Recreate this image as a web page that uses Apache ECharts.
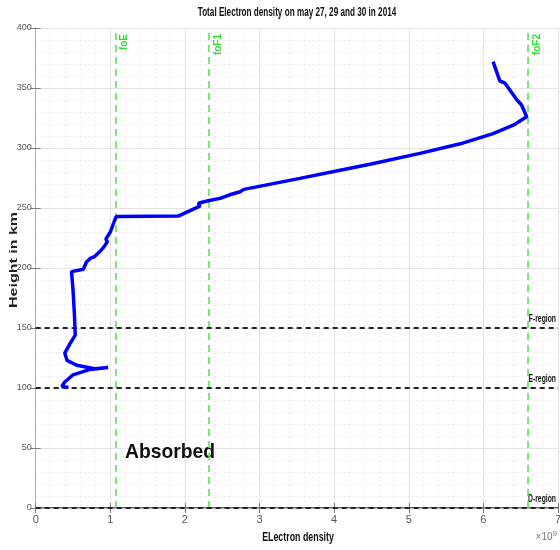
<!DOCTYPE html>
<html>
<head>
<meta charset="utf-8">
<script src="https://cdn.jsdelivr.net/npm/echarts@6/dist/echarts.min.js"></script>
<style>
  html, body { margin: 0; padding: 0; background: #ffffff; }
  #chart { width: 560px; height: 550px; }
</style>
</head>
<body>
<div id="chart"></div>
<script>
// Electron density profile (units of 1e9) against height in km
const density = [0.44, 0.35, 0.39, 0.50, 0.73, 0.97, 0.79, 0.55, 0.42, 0.39, 0.46, 0.53, 0.52, 0.50, 0.48,
  0.50, 0.64, 0.68, 0.73, 0.79, 0.88, 0.93, 0.96, 0.94, 1.00, 1.06, 1.08, 1.91, 2.20, 2.18, 2.31, 2.47,
  2.60, 2.74, 2.79, 3.32, 3.54, 4.08, 4.48, 5.15, 5.69, 6.13, 6.40, 6.58, 6.51, 6.45, 6.29, 6.22, 6.13];
const height = [100.5, 101.5, 105, 111, 115.5, 117, 116, 119, 123, 129, 137, 144, 160, 182, 197,
  198.5, 199, 205, 208, 209.5, 215, 219, 222, 224, 230, 240, 243, 243.3, 251.5, 254, 256, 258,
  261, 263.5, 265.5, 272, 274.7, 281.5, 286.5, 295.5, 303.5, 312, 319, 326, 336, 340, 354, 356, 372];

// Critical frequency markers (density position) and ionospheric region boundaries
const freqNames = ['foE', 'foF1', 'foF2'];
const freqDensity = [1.07, 2.32, 6.6];
const regionNames = ['D-region', 'E-region', 'F-region'];
const regionHeights = [0, 100, 150];

// Axis ranges
const xMin = 0, xMax = 7, xStep = 1;
const yMin = 0, yMax = 400, yStep = 50;

const FONT = '"Liberation Sans", Arial, sans-serif';
const chart = echarts.init(document.getElementById('chart'), null, { renderer: 'canvas' });

const frameAxis = {
  axisLine: { show: true, lineStyle: { color: '#b0b0b0', width: 1 } },
  axisTick: { show: true, inside: true, length: 5, lineStyle: { color: '#7a7a7a' } },
  axisLabel: { show: false },
  splitLine: { show: false }
};

// condensed bold text helper for graphic labels
function squeezed(x, y, text, size, opts) {
  return Object.assign({
    type: 'text', x: x, y: y, scaleX: 0.68,
    style: {
      text: text, fontFamily: FONT, fontSize: size, fontWeight: 'bold', fill: '#111',
      align: 'center', verticalAlign: 'middle'
    }
  }, opts || {});
}

chart.setOption({
  animation: false,
  backgroundColor: '#ffffff',
  grid: { left: 35.7, right: 2, top: 28, bottom: 42, containLabel: false, outerBoundsMode: 'none' },
  xAxis: [{
    type: 'value', min: xMin, max: xMax, interval: xStep,
    axisLine: { show: true, lineStyle: { color: '#3a3a3a', width: 1.5 } },
    axisTick: { show: true, inside: true, length: 5, lineStyle: { color: '#7a7a7a' } },
    axisLabel: { fontFamily: FONT, fontSize: 11, color: '#555', margin: 6 },
    splitLine: { show: true, lineStyle: { color: '#e3e3e3', width: 1 } },
    minorTick: { show: false, splitNumber: 5 },
    minorSplitLine: { show: true, lineStyle: { color: '#efefef', width: 1, type: [2, 2] } }
  }, Object.assign({ type: 'value', position: 'top', min: xMin, max: xMax, interval: xStep }, frameAxis)],
  yAxis: [{
    type: 'value', min: yMin, max: yMax, interval: yStep,
    axisLine: { show: true, lineStyle: { color: '#b0b0b0', width: 1 } },
    axisTick: { show: true, inside: true, length: 5, lineStyle: { color: '#7a7a7a' } },
    axisLabel: { fontFamily: FONT, fontSize: 9, color: '#555', margin: 4 },
    splitLine: { show: true, lineStyle: { color: '#e3e3e3', width: 1 } },
    minorTick: { show: false, splitNumber: 5 },
    minorSplitLine: { show: true, lineStyle: { color: '#efefef', width: 1, type: [2, 2] } }
  }, Object.assign({ type: 'value', position: 'right', min: yMin, max: yMax, interval: yStep }, frameAxis)],
  series: [{
    type: 'line',
    data: density.map((d, i) => [d, height[i]]),
    showSymbol: false,
    smooth: false,
    lineStyle: { color: '#0000ff', width: 3.5 },
    z: 5,
    markLine: {
      silent: true, symbol: 'none', animation: false,
      lineStyle: { color: '#4ee04e', type: [7, 5], width: 1.5 },
      label: {
        show: true, position: 'insideEndBottom', distance: [6, 4],
        fontFamily: FONT, fontSize: 10, fontWeight: 'bold', color: '#2ee02e'
      },
      data: freqNames.map((n, i) => ({ xAxis: freqDensity[i], label: { formatter: n } }))
    }
  }, {
    type: 'line', data: [], z: 4,
    markLine: {
      silent: true, symbol: 'none', animation: false,
      lineStyle: { color: '#222', type: [5, 4], width: 2 },
      label: { show: false },
      data: regionHeights.map(h => ({ yAxis: h }))
    }
  }]
});

// Text overlays: titles, annotation and region names placed through the axis scales
const rightEdge = chart.convertToPixel({ xAxisIndex: 0 }, xMax);
const overlays = [
  squeezed(297, 13, 'Total Electron density on may 27, 29 and 30 in 2014', 12),
  squeezed(298, 537, 'ELectron density', 13, {}),
  {
    type: 'text', x: 14, y: 260, rotation: Math.PI / 2, scaleY: 0.68,
    style: {
      text: 'Height in km', fontFamily: FONT, fontSize: 16, fontWeight: 'bold', fill: '#222',
      align: 'center', verticalAlign: 'middle'
    }
  },
  {
    type: 'text', x: 557, y: 537,
    style: {
      text: '×10{sup|9}', align: 'right', verticalAlign: 'middle',
      rich: { sup: { fontFamily: FONT, fontSize: 8, verticalAlign: 'top', padding: [0, 0, 6, 0], fill: '#777' } },
      fontFamily: FONT, fontSize: 10, fill: '#777'
    }
  },
  {
    type: 'text', x: 125, y: 452, scaleX: 0.92,
    style: {
      text: 'Absorbed', fontFamily: FONT, fontSize: 21, fontWeight: 'bold', fill: '#111',
      verticalAlign: 'middle'
    }
  }
];
regionNames.forEach((name, i) => {
  const py = chart.convertToPixel({ yAxisIndex: 0 }, regionHeights[i]);
  overlays.push(squeezed(rightEdge - 2, py - 9, name, 10, {
    style: {
      text: name, fontFamily: FONT, fontSize: 10, fontWeight: 'bold', fill: '#111',
      align: 'right', verticalAlign: 'middle'
    }
  }));
});
chart.setOption({ graphic: overlays });
</script>
</body>
</html>
